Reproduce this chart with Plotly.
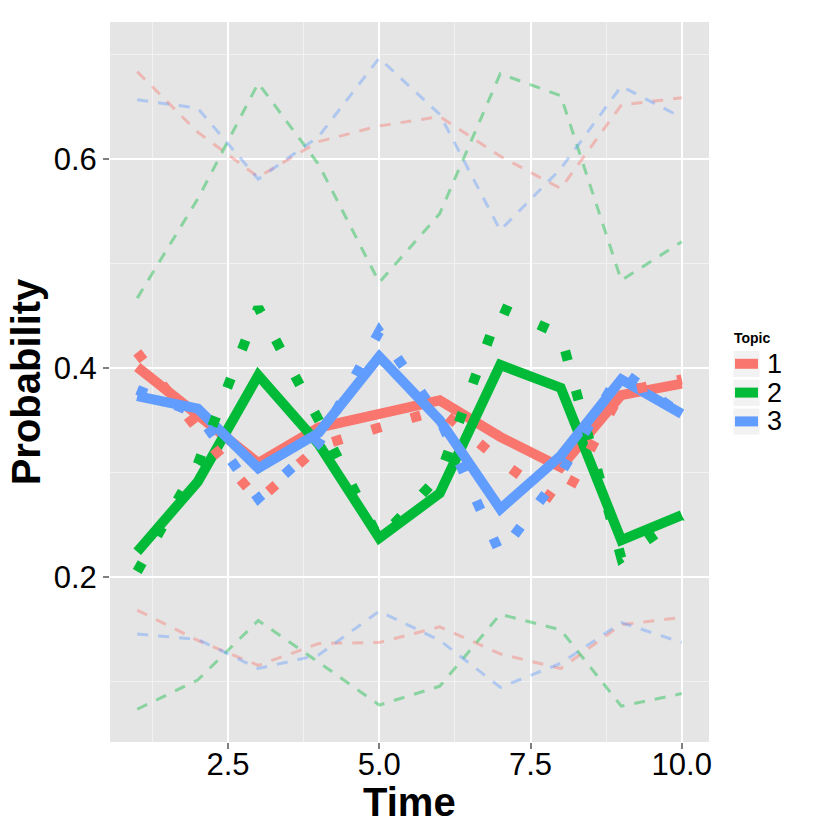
import plotly.graph_objects as go

time   = [1, 2, 3, 4, 5, 6, 7, 8, 9, 10]
topics = ["1", "2", "3"]
colors = ["#F8766D", "#00BA38", "#619CFF"]

# thick solid lines
mean_1 = [0.401, 0.355, 0.309, 0.343, 0.355, 0.369, 0.334, 0.305, 0.374, 0.385]
mean_2 = [0.224, 0.291, 0.393, 0.327, 0.237, 0.280, 0.403, 0.381, 0.235, 0.259]
mean_3 = [0.373, 0.361, 0.304, 0.338, 0.411, 0.350, 0.265, 0.316, 0.389, 0.356]

# thick dotted lines
obs_1 = [0.415, 0.341, 0.273, 0.325, 0.343, 0.360, 0.311, 0.269, 0.377, 0.389]
obs_2 = [0.205, 0.308, 0.458, 0.350, 0.236, 0.297, 0.458, 0.432, 0.218, 0.258]
obs_3 = [0.379, 0.356, 0.275, 0.328, 0.435, 0.351, 0.222, 0.299, 0.397, 0.355]

# faint dashed bands
upper_1 = [0.684, 0.626, 0.583, 0.617, 0.632, 0.641, 0.603, 0.572, 0.652, 0.659]
upper_2 = [0.467, 0.562, 0.673, 0.595, 0.482, 0.548, 0.682, 0.661, 0.484, 0.521]
upper_3 = [0.657, 0.649, 0.581, 0.622, 0.697, 0.643, 0.532, 0.591, 0.670, 0.640]

lower_1 = [0.168, 0.139, 0.115, 0.136, 0.137, 0.152, 0.126, 0.112, 0.154, 0.161]
lower_2 = [0.073, 0.101, 0.158, 0.118, 0.077, 0.095, 0.164, 0.149, 0.076, 0.088]
lower_3 = [0.145, 0.140, 0.112, 0.125, 0.167, 0.139, 0.094, 0.117, 0.156, 0.137]

FONT = "Liberation Sans, Arial, Helvetica, sans-serif"
L, R, T, B = 110, 709, 22, 742   # panel in pixels


def px(x):
    return (x - L) / (R - L)


def py(y):
    return (B - y) / (B - T)


fig = go.Figure()

for ys, c in zip([lower_1, lower_2, lower_3, upper_1, upper_2, upper_3], colors * 2):
    fig.add_trace(go.Scatter(x=time, y=ys, mode="lines", opacity=0.4,
                             line=dict(color=c, width=3, dash="11px,10px"),
                             hoverinfo="skip", showlegend=False))

for ys, c in zip([mean_1, mean_2, mean_3], colors):
    fig.add_trace(go.Scatter(x=time, y=ys, mode="lines",
                             line=dict(color=c, width=10), showlegend=False))

for ys, c in zip([obs_1, obs_2, obs_3], colors):
    fig.add_trace(go.Scatter(x=time, y=ys, mode="lines",
                             line=dict(color=c, width=10, dash="10px,31px"),
                             showlegend=False))

# x title and legend drawn by hand, ggplot style
shapes      = []
annotations = [dict(x=0.5, y=py(802), xref="paper", yref="paper", text="<b>Time</b>",
                    showarrow=False, xanchor="center", yanchor="middle",
                    font=dict(family=FONT, size=40, color="black")),
               dict(x=px(732), y=py(338), xref="paper", yref="paper", text="<b>Topic</b>",
                    showarrow=False, xanchor="left", yanchor="middle",
                    font=dict(family=FONT, size=14, color="black"))]
for i, (name, c) in enumerate(zip(topics, colors)):
    top = 350.5 + i * 28.8
    mid = top + 13.3
    shapes.append(dict(type="rect", xref="paper", yref="paper",
                       x0=px(733), x1=px(760), y0=py(top), y1=py(top + 27),
                       fillcolor="#F2F2F2", line=dict(color="white", width=1), layer="above"))
    shapes.append(dict(type="line", xref="paper", yref="paper",
                       x0=px(735), x1=px(758), y0=py(mid), y1=py(mid),
                       line=dict(color=c, width=10), layer="above"))
    annotations.append(dict(x=px(765), y=py(mid), xref="paper", yref="paper", text=name,
                            showarrow=False, xanchor="left", yanchor="middle",
                            font=dict(family=FONT, size=27, color="black")))

fig.update_xaxes(range=[0.55, 10.45], tick0=0, dtick=2.5, tickformat=".1f",
                 showgrid=True, gridcolor="white", gridwidth=1.8, zeroline=False,
                 ticks="outside", ticklen=6, tickwidth=1.5, tickcolor="#7F7F7F",
                 ticklabelstandoff=-11,
                 tickfont=dict(family=FONT, size=31, color="black"),
                 minor=dict(tick0=0, dtick=1.25, showgrid=True, gridcolor="#F2F2F2", gridwidth=1))

fig.update_yaxes(range=[0.0416, 0.7316], tick0=0, dtick=0.2, tickformat=".1f",
                 showgrid=True, gridcolor="white", gridwidth=1.8, zeroline=False,
                 ticks="outside", ticklen=6, tickwidth=1.5, tickcolor="#7F7F7F",
                 tickfont=dict(family=FONT, size=31, color="black"),
                 minor=dict(tick0=0, dtick=0.1, showgrid=True, gridcolor="#F2F2F2", gridwidth=1),
                 title=dict(text="<b>Probability</b>", standoff=0,
                            font=dict(family=FONT, size=40, color="black")))

fig.update_layout(width=830, height=830,
                  plot_bgcolor="#E5E5E5", paper_bgcolor="white",
                  margin=dict(l=L, r=830 - R, t=T, b=830 - B),
                  showlegend=False, shapes=shapes, annotations=annotations)

fig.write_html("out.html", config={"displayModeBar": False},
               post_script="document.body.style.margin='0';")
